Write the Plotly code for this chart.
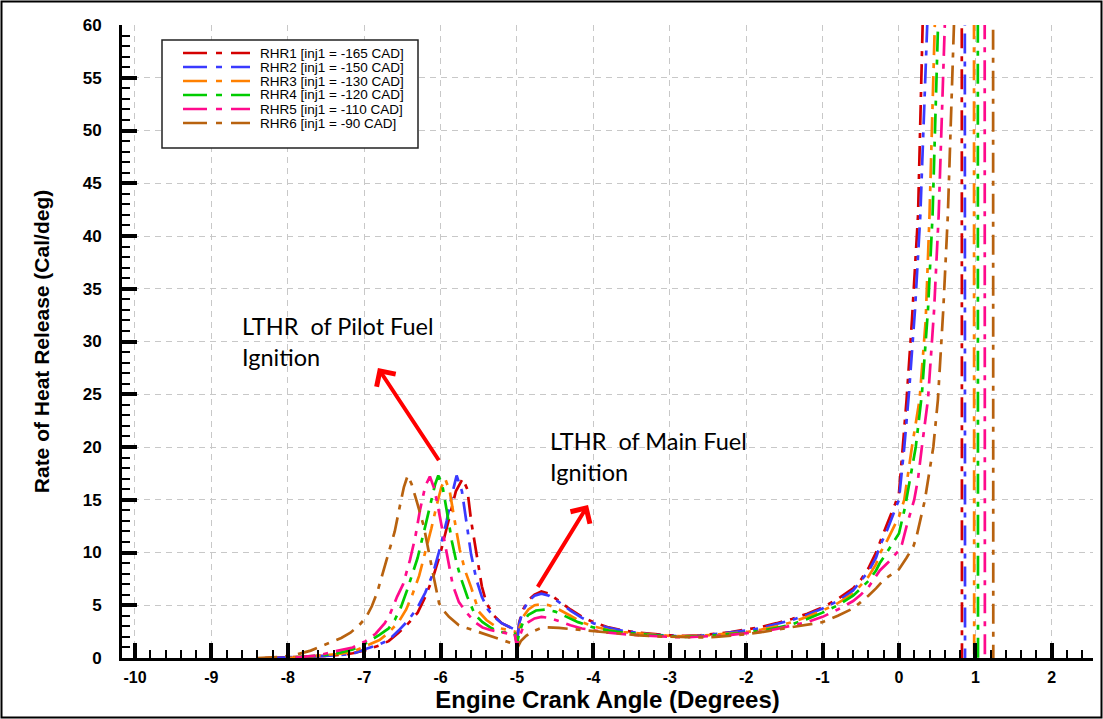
import plotly.graph_objects as go

# ---------------- data ----------------
X_TICKS = [-10, -9, -8, -7, -6, -5, -4, -3, -2, -1, 0, 1, 2]
X_TICK_LABELS = ["-10", "-9", "-8", "-7", "-6", "-5", "-4", "-3", "-2", "-1", "0", "1", "2"]
Y_TICKS = [0, 5, 10, 15, 20, 25, 30, 35, 40, 45, 50, 55, 60]
Y_TICK_LABELS = ["0", "5", "10", "15", "20", "25", "30", "35", "40", "45", "50", "55", "60"]

SERIES_NAMES = [
    "RHR1 [inj1 = -165 CAD]",
    "RHR2 [inj1 = -150 CAD]",
    "RHR3 [inj1 = -130 CAD]",
    "RHR4 [inj1 = -120 CAD]",
    "RHR5 [inj1 = -110 CAD]",
    "RHR6 [inj1 = -90 CAD]",
]
COLORS = ["#D40000", "#3A3AFF", "#FF8000", "#00CC00", "#FF0A8C", "#B8620F"]

# (crank angle, rate of heat release) pairs for each series
RHR1 = [(-8.3, 0.0), (-7.8, 0.1), (-7.5, 0.2), (-7.3, 0.3), (-7.15, 0.45), (-6.98, 0.75), (-6.8, 1.2),
        (-6.68, 1.6), (-6.55, 2.4), (-6.42, 3.3), (-6.3, 4.3), (-6.2, 5.8), (-6.1, 7.6), (-6.0, 10.0),
        (-5.9, 13.0), (-5.8, 15.8), (-5.71, 17.0), (-5.65, 16.0), (-5.6, 13.0), (-5.53, 10.0),
        (-5.46, 6.8), (-5.4, 5.2), (-5.3, 4.0), (-5.2, 3.3), (-5.1, 2.9), (-5.03, 2.7), (-5.0, 1.6),
        (-4.97, 3.4), (-4.92, 4.6), (-4.85, 5.5), (-4.77, 6.0), (-4.68, 6.3), (-4.58, 6.1), (-4.45, 5.4),
        (-4.3, 4.6), (-4.15, 3.9), (-4.0, 3.4), (-3.8, 2.9), (-3.6, 2.6), (-3.4, 2.4), (-3.2, 2.25),
        (-3.0, 2.15), (-2.8, 2.1), (-2.6, 2.15), (-2.4, 2.3), (-2.2, 2.45), (-2.0, 2.7), (-1.8, 2.95),
        (-1.6, 3.3), (-1.4, 3.7), (-1.2, 4.2), (-1.0, 4.8), (-0.8, 5.6), (-0.6, 6.6), (-0.5, 7.4),
        (-0.4, 8.5), (-0.3, 10.0), (-0.25, 11.0), (-0.15, 12.8), (-0.05, 14.6), (0.0, 15.6), (0.05, 20.0),
        (0.1, 24.5), (0.17, 32.0), (0.25, 42.0), (0.31, 60.0), (0.36, 80.0), (0.5, 120.0), (0.82, 120.0),
        (0.825, -5.0)]
RHR2 = [(-8.2, 0.0), (-7.8, 0.1), (-7.5, 0.2), (-7.3, 0.3), (-7.15, 0.4), (-6.98, 0.85), (-6.8, 1.3),
        (-6.68, 1.7), (-6.55, 2.6), (-6.42, 3.6), (-6.3, 4.8), (-6.2, 6.2), (-6.1, 8.0), (-6.0, 10.6),
        (-5.92, 13.0), (-5.85, 15.5), (-5.79, 17.3), (-5.72, 15.8), (-5.66, 12.8), (-5.6, 9.8),
        (-5.53, 7.4), (-5.46, 5.8), (-5.38, 4.6), (-5.3, 3.9), (-5.2, 3.3), (-5.1, 2.9), (-5.03, 2.7),
        (-5.0, 1.5), (-4.97, 3.3), (-4.92, 4.5), (-4.85, 5.4), (-4.77, 5.9), (-4.68, 6.1), (-4.58, 5.9),
        (-4.45, 5.3), (-4.3, 4.5), (-4.15, 3.8), (-4.0, 3.3), (-3.8, 2.85), (-3.6, 2.55), (-3.4, 2.35),
        (-3.2, 2.2), (-3.0, 2.1), (-2.8, 2.05), (-2.6, 2.1), (-2.4, 2.25), (-2.2, 2.4), (-2.0, 2.6),
        (-1.8, 2.85), (-1.6, 3.2), (-1.4, 3.6), (-1.2, 4.1), (-1.0, 4.7), (-0.8, 5.4), (-0.6, 6.4),
        (-0.5, 7.3), (-0.4, 8.2), (-0.3, 9.5), (-0.25, 10.6), (-0.15, 12.2), (-0.05, 14.0), (0.0, 15.0),
        (0.07, 20.0), (0.13, 25.0), (0.21, 33.0), (0.28, 42.0), (0.37, 60.0), (0.42, 80.0), (0.6, 120.0),
        (0.86, 120.0), (0.865, -5.0)]
RHR3 = [(-8.0, 0.0), (-7.8, 0.1), (-7.5, 0.25), (-7.3, 0.4), (-7.15, 0.6), (-6.98, 1.1), (-6.8, 1.7),
        (-6.68, 2.4), (-6.55, 3.4), (-6.45, 4.6), (-6.37, 6.0), (-6.28, 7.8), (-6.2, 10.0), (-6.12, 12.3),
        (-6.05, 14.5), (-5.99, 16.2), (-5.94, 17.0), (-5.88, 15.8), (-5.82, 13.2), (-5.75, 10.3),
        (-5.68, 8.3), (-5.6, 6.7), (-5.5, 4.4), (-5.4, 3.6), (-5.3, 3.1), (-5.2, 2.8), (-5.1, 2.6),
        (-5.03, 2.5), (-5.0, 1.4), (-4.97, 2.8), (-4.92, 3.9), (-4.85, 4.6), (-4.77, 5.0), (-4.68, 5.1),
        (-4.58, 5.0), (-4.45, 4.6), (-4.3, 4.0), (-4.15, 3.4), (-4.0, 3.0), (-3.8, 2.65), (-3.6, 2.45),
        (-3.4, 2.3), (-3.2, 2.2), (-3.0, 2.1), (-2.8, 2.05), (-2.6, 2.1), (-2.4, 2.2), (-2.2, 2.3),
        (-2.0, 2.45), (-1.8, 2.7), (-1.6, 3.0), (-1.4, 3.4), (-1.2, 3.9), (-1.0, 4.5), (-0.8, 5.2),
        (-0.6, 6.1), (-0.5, 6.9), (-0.4, 7.7), (-0.3, 8.9), (-0.25, 9.9), (-0.15, 11.2), (-0.05, 12.6),
        (0.0, 13.4), (0.07, 15.0), (0.17, 20.0), (0.27, 24.5), (0.35, 32.0), (0.40, 42.0), (0.45, 60.0),
        (0.5, 80.0), (0.7, 120.0), (0.98, 120.0), (0.985, -5.0)]
RHR4 = [(-7.9, 0.05), (-7.6, 0.2), (-7.4, 0.35), (-7.15, 0.8), (-6.98, 1.4), (-6.8, 2.2), (-6.68, 2.8),
        (-6.6, 3.6), (-6.52, 4.8), (-6.44, 6.4), (-6.37, 7.9), (-6.3, 9.5), (-6.2, 12.5), (-6.12, 15.0),
        (-6.07, 16.5), (-6.03, 17.3), (-5.98, 16.5), (-5.92, 14.0), (-5.85, 11.0), (-5.79, 9.0),
        (-5.74, 7.7), (-5.65, 5.8), (-5.55, 4.1), (-5.45, 3.4), (-5.35, 2.9), (-5.24, 2.5), (-5.1, 2.35),
        (-5.03, 2.3), (-5.0, 1.3), (-4.97, 2.4), (-4.92, 3.4), (-4.85, 4.1), (-4.75, 4.5), (-4.62, 4.6),
        (-4.5, 4.4), (-4.35, 3.9), (-4.2, 3.4), (-4.0, 2.9), (-3.8, 2.6), (-3.6, 2.4), (-3.4, 2.25),
        (-3.2, 2.15), (-3.0, 2.05), (-2.8, 2.0), (-2.6, 2.05), (-2.4, 2.15), (-2.2, 2.25), (-2.0, 2.4),
        (-1.8, 2.6), (-1.6, 2.85), (-1.4, 3.2), (-1.2, 3.7), (-1.0, 4.3), (-0.8, 5.0), (-0.6, 5.9),
        (-0.5, 6.6), (-0.4, 7.3), (-0.3, 8.3), (-0.25, 9.0), (-0.15, 10.1), (-0.05, 11.2), (0.0, 11.8),
        (0.08, 14.3), (0.16, 17.5), (0.22, 20.0), (0.3, 25.0), (0.38, 33.0), (0.44, 42.0), (0.50, 60.0),
        (0.55, 80.0), (0.75, 120.0), (1.03, 120.0), (1.035, -5.0)]
RHR5 = [(-7.9, 0.05), (-7.6, 0.25), (-7.4, 0.6), (-7.15, 1.0), (-6.98, 1.6), (-6.85, 2.3), (-6.73, 3.3),
        (-6.66, 4.2), (-6.57, 5.8), (-6.49, 7.0), (-6.4, 9.3), (-6.33, 11.5), (-6.27, 14.0), (-6.2, 16.3),
        (-6.14, 17.2), (-6.08, 16.0), (-6.02, 13.8), (-5.96, 11.5), (-5.9, 9.0), (-5.84, 6.9),
        (-5.76, 5.3), (-5.66, 4.3), (-5.55, 3.4), (-5.45, 2.9), (-5.35, 2.65), (-5.2, 2.4), (-5.1, 2.3),
        (-5.03, 2.3), (-5.0, 1.0), (-4.97, 2.0), (-4.92, 2.9), (-4.85, 3.4), (-4.77, 3.75), (-4.68, 3.9),
        (-4.58, 3.8), (-4.45, 3.5), (-4.3, 3.1), (-4.15, 2.8), (-4.0, 2.6), (-3.8, 2.4), (-3.6, 2.25),
        (-3.4, 2.15), (-3.2, 2.05), (-3.0, 2.0), (-2.8, 1.95), (-2.6, 2.0), (-2.4, 2.1), (-2.2, 2.2),
        (-2.0, 2.35), (-1.8, 2.5), (-1.6, 2.75), (-1.4, 3.05), (-1.2, 3.4), (-1.0, 3.9), (-0.8, 4.6),
        (-0.6, 5.4), (-0.5, 6.0), (-0.4, 6.7), (-0.3, 7.7), (-0.25, 8.3), (-0.15, 9.0), (-0.05, 9.8),
        (0.0, 10.2), (0.04, 10.8), (0.1, 12.5), (0.2, 15.0), (0.25, 17.0), (0.3, 20.0), (0.38, 24.5),
        (0.46, 33.0), (0.52, 42.0), (0.60, 60.0), (0.65, 80.0), (0.85, 120.0), (1.12, 120.0),
        (1.125, -5.0)]
RHR6 = [(-8.4, 0.0), (-8.1, 0.1), (-7.9, 0.3), (-7.7, 0.7), (-7.5, 1.3), (-7.3, 1.9), (-7.18, 2.4),
        (-7.08, 3.0), (-6.98, 3.8), (-6.9, 4.9), (-6.83, 6.2), (-6.77, 7.7), (-6.68, 9.8), (-6.6, 12.0),
        (-6.53, 14.5), (-6.48, 16.2), (-6.43, 17.3), (-6.38, 16.5), (-6.31, 14.8), (-6.22, 12.5),
        (-6.11, 8.4), (-6.02, 5.2), (-5.95, 4.4), (-5.89, 3.9), (-5.76, 3.1), (-5.6, 2.7), (-5.4, 2.2),
        (-5.22, 1.8), (-5.1, 1.5), (-5.03, 1.3), (-5.0, 0.9), (-4.95, 1.6), (-4.88, 2.1), (-4.8, 2.5),
        (-4.7, 2.8), (-4.6, 2.9), (-4.45, 2.85), (-4.3, 2.75), (-4.15, 2.6), (-4.0, 2.5), (-3.8, 2.35),
        (-3.6, 2.25), (-3.4, 2.15), (-3.2, 2.05), (-3.0, 2.0), (-2.8, 1.95), (-2.6, 1.95), (-2.4, 2.0),
        (-2.2, 2.1), (-2.0, 2.25), (-1.8, 2.45), (-1.6, 2.7), (-1.4, 2.95), (-1.2, 3.2), (-1.0, 3.4),
        (-0.8, 4.0), (-0.6, 4.7), (-0.5, 5.3), (-0.4, 5.9), (-0.3, 6.6), (-0.2, 7.4), (-0.1, 7.9),
        (0.0, 8.4), (0.1, 9.5), (0.19, 10.6), (0.23, 11.5), (0.34, 15.0), (0.45, 20.0), (0.51, 24.5),
        (0.58, 33.0), (0.64, 42.0), (0.72, 60.0), (0.78, 80.0), (0.95, 120.0), (1.23, 120.0),
        (1.235, -5.0)]
SERIES = [RHR1, RHR2, RHR3, RHR4, RHR5, RHR6]

X_TITLE = "Engine Crank Angle (Degrees)"
Y_TITLE = "Rate of Heat Release (Cal/deg)"
PILOT_TEXT = "LTHR  of Pilot Fuel<br>Ignition"
MAIN_TEXT = "LTHR  of Main Fuel<br>Ignition"

# ---------------- layout geometry ----------------
W, H = 1103, 719
L, R, T, B = 122, 10, 25, 61
PW, PH = W - L - R, H - T - B


def px(xp):
    return (xp - L) / PW


def py(yp):
    return (H - B - yp) / PH


TRACE_DASH = "20px,8px,5px,8px"
LEGEND_DASH = "24px,9px,6px,9px"

fig = go.Figure()
for name, pts, color in zip(SERIES_NAMES, SERIES, COLORS):
    xs = [p[0] for p in pts]
    ys = [p[1] for p in pts]
    fig.add_trace(go.Scatter(x=xs, y=ys, mode="lines", name=name, showlegend=False,
                             line=dict(color=color, width=2.7, dash=TRACE_DASH)))

axis_font = dict(family="Liberation Sans, Arial, sans-serif", size=16, color="black", weight="bold")
x_title_font = dict(family="Liberation Sans, Arial, sans-serif", size=24, color="black", weight="bold")
y_title_font = dict(family="Liberation Sans, Arial, sans-serif", size=21, color="black", weight="bold")

fig.update_layout(
    width=W, height=H,
    margin=dict(l=L, r=R, t=T, b=B),
    paper_bgcolor="white", plot_bgcolor="white",
    showlegend=False,
    xaxis=dict(
        range=[-10.17, 2.54], tickmode="array", tickvals=X_TICKS, ticktext=X_TICK_LABELS,
        ticks="inside", ticklen=15, tickwidth=3.5, tickcolor="black",
        showline=True, linecolor="black", linewidth=3, zeroline=False,
        showgrid=True, gridcolor="#C8C8C8", gridwidth=1, griddash="6px,5px",
        minor=dict(tickmode="linear", tick0=0, dtick=0.2, ticks="inside", ticklen=8,
                   tickwidth=1.5, tickcolor="black", showgrid=False),
        tickfont=axis_font, ticklabelstandoff=3,
        title=dict(text=X_TITLE, font=x_title_font, standoff=5),
    ),
    yaxis=dict(
        range=[0, 60], tickmode="array", tickvals=Y_TICKS, ticktext=Y_TICK_LABELS,
        ticks="inside", ticklen=15, tickwidth=3.5, tickcolor="black",
        showline=True, linecolor="black", linewidth=3, zeroline=False,
        showgrid=True, gridcolor="#C8C8C8", gridwidth=1, griddash="6px,5px",
        minor=dict(tickmode="linear", tick0=0, dtick=1, ticks="inside", ticklen=8,
                   tickwidth=1.5, tickcolor="black", showgrid=False),
        tickfont=dict(axis_font, size=17), ticklabelstandoff=14,
        title=dict(text=Y_TITLE, font=y_title_font, standoff=28),
    ),
)

shapes = []
# outer frame of the picture
shapes.append(dict(type="rect", xref="paper", yref="paper", x0=px(1.5), x1=px(1101.5),
                   y0=py(717.5), y1=py(1.5), line=dict(color="black", width=2), layer="above"))
# white text boxes that hide the grid
shapes.append(dict(type="rect", xref="paper", yref="paper", x0=px(227), x1=px(500),
                   y0=py(432), y1=py(298), line=dict(width=0), fillcolor="white", layer="between"))
shapes.append(dict(type="rect", xref="paper", yref="paper", x0=px(532), x1=px(770),
                   y0=py(495), y1=py(415), line=dict(width=0), fillcolor="white", layer="between"))
# legend box
shapes.append(dict(type="rect", xref="paper", yref="paper", x0=px(162), x1=px(418),
                   y0=py(148), y1=py(40), line=dict(color="#222222", width=1.5),
                   fillcolor="white", layer="above"))
annotations = []
for i, (name, color) in enumerate(zip(SERIES_NAMES, COLORS)):
    yrow = 53 + 14 * i
    shapes.append(dict(type="line", xref="paper", yref="paper", x0=px(183), x1=px(250),
                       y0=py(yrow), y1=py(yrow), line=dict(color=color, width=2.5, dash=LEGEND_DASH),
                       layer="above"))
    annotations.append(dict(xref="paper", yref="paper", x=px(258), y=py(yrow), text=name,
                            showarrow=False, xanchor="left", yanchor="middle",
                            font=dict(family="Liberation Sans, Arial, sans-serif", size=13.5,
                                      color="black")))

note_font = dict(family="Lato, Open Sans, sans-serif", size=23.5, color="black")
annotations.append(dict(xref="x", yref="y", axref="x", x=-8.63, y=33.0, text=PILOT_TEXT, showarrow=False,
                        xanchor="left", yanchor="top", align="left", font=note_font))
annotations.append(dict(xref="x", yref="y", x=-4.59, y=22.1, text=MAIN_TEXT, showarrow=False,
                        xanchor="left", yanchor="top", align="left", font=note_font))
# arrows (head at x,y; tail at ax,ay)
annotations.append(dict(xref="x", yref="y", axref="x", ayref="y", x=-6.82, y=27.5, ax=-6.01, ay=18.6,
                        text="", showarrow=True, arrowhead=4, arrowsize=1.1, arrowwidth=4,
                        arrowcolor="#FF0000", standoff=0, startstandoff=0))
annotations.append(dict(xref="x", yref="y", axref="x", ayref="y", x=-4.07, y=14.5, ax=-4.74, ay=6.6,
                        text="", showarrow=True, arrowhead=4, arrowsize=1.1, arrowwidth=4,
                        arrowcolor="#FF0000", standoff=0, startstandoff=0))

fig.update_layout(shapes=shapes, annotations=annotations)
fig.write_html("out.html")
